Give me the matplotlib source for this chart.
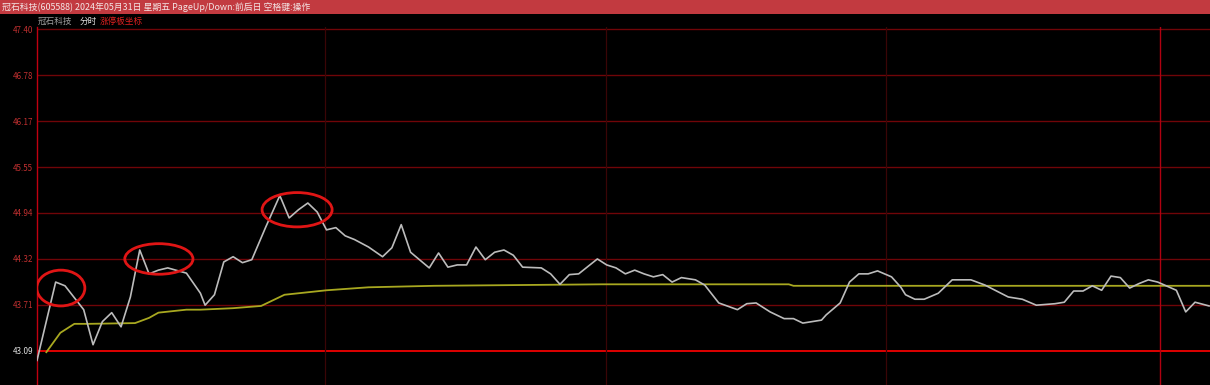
import matplotlib
matplotlib.use("Agg")
import matplotlib.pyplot as plt
import matplotlib.patches as patches

plt.rcParams['font.family'] = ['Noto Sans CJK SC', 'DejaVu Sans']

# 分时数据 (分钟, 价格)
price_t = [0, 4, 6, 8, 10, 12, 14, 16, 18, 20, 22, 24, 26, 28, 32, 35, 36, 38, 40, 42,
           44, 46, 49, 52, 54, 56, 58, 60, 62, 64, 66, 68, 71, 74, 76, 78, 80, 84, 86, 88,
           90, 92, 94, 96, 98, 100, 102, 104, 108, 110, 112, 114, 116, 120, 122, 124, 126, 128, 130, 132,
           134, 136, 138, 141, 143, 146, 150, 152, 154, 157, 160, 162, 164, 168, 169, 172, 174, 176, 178, 180,
           183, 185, 186, 188, 190, 193, 196, 200, 203, 208, 211, 214, 218, 220, 222, 224, 226, 228, 230, 232,
           234, 236, 238, 240, 244, 246, 248, 251]
price = [42.96, 44.01, 43.96, 43.80, 43.64, 43.17, 43.48, 43.60, 43.41, 43.81, 44.44, 44.12, 44.17, 44.20, 44.13, 43.86, 43.70, 43.84, 44.28, 44.35,
         44.27, 44.31, 44.75, 45.17, 44.87, 44.98, 45.07, 44.95, 44.71, 44.74, 44.63, 44.58, 44.48, 44.35, 44.47, 44.78, 44.41, 44.20, 44.40, 44.21,
         44.24, 44.24, 44.48, 44.31, 44.41, 44.44, 44.37, 44.21, 44.20, 44.12, 43.98, 44.11, 44.12, 44.32, 44.24, 44.20, 44.12, 44.17, 44.12, 44.08,
         44.11, 44.01, 44.07, 44.04, 43.97, 43.73, 43.64, 43.72, 43.73, 43.61, 43.52, 43.52, 43.46, 43.50, 43.57, 43.73, 44.01, 44.12, 44.12, 44.16,
         44.08, 43.94, 43.84, 43.78, 43.78, 43.86, 44.04, 44.04, 43.97, 43.81, 43.78, 43.70, 43.72, 43.74, 43.89, 43.89, 43.96, 43.90, 44.09, 44.07,
         43.93, 43.99, 44.04, 44.01, 43.90, 43.61, 43.74, 43.69]

# 均价线
avg_t = [2, 5, 8, 11, 21, 24, 26, 32, 35, 42, 48, 53, 56, 62, 71, 85, 103, 121, 161, 162, 251]
avg = [43.07, 43.33, 43.45, 43.45, 43.46, 43.53, 43.60, 43.64, 43.64, 43.66, 43.69, 43.84, 43.86, 43.90, 43.94, 43.96, 43.97, 43.98, 43.98, 43.96, 43.96]

prev_close = 43.09
limit_up = 47.40
y_ticks = [prev_close + k * (limit_up - prev_close) / 7 for k in range(8)]
hour_lines = [61.7, 121.8, 181.8]
day_end = 240.4

# 红圈标注 (中心分钟, 中心价格, 宽, 高)
circles = [(5.1, 43.93, 10.3, 0.48), (26.1, 44.32, 14.6, 0.41), (55.7, 44.98, 15.0, 0.46)]

title = "冠石科技(605588) 2024年05月31日 星期五 PageUp/Down:前后日 空格键:操作"

fig = plt.figure(figsize=(12.1, 3.85), dpi=100, facecolor='black')

# 顶部红色标题栏
bar = fig.add_axes([0, 1 - 14 / 385, 1, 14 / 385])
bar.set_facecolor('#c23a40')
bar.set_xticks([])
bar.set_yticks([])
for s in bar.spines.values():
    s.set_visible(False)
bar.text(0.002, 0.5, title, color='#f4e6e6', fontsize=6.4, va='center', ha='left',
         transform=bar.transAxes)

# 主图
ax = fig.add_axes([37 / 1210, 0, 1 - 37 / 1210, 358 / 385])
ax.set_facecolor('black')
ax.set_xlim(0, 251.2)
ax.set_ylim(42.63, 47.43)

for i, yv in enumerate(y_ticks):
    if i == 0:
        ax.axhline(yv, color='#e00000', lw=1.4, zorder=1)
    else:
        ax.axhline(yv, color='#700508', lw=1.0, zorder=1)
for xv in hour_lines:
    ax.axvline(xv, color='#3a0506', lw=0.9, zorder=1)
ax.axvline(day_end, color='#b00010', lw=1.0, zorder=1)

ax.plot(avg_t, avg, color='#a8a820', lw=1.3, zorder=3)
ax.plot(price_t, price, color='#bcbcbc', lw=1.2, zorder=4)

for cx, cy, w, h in circles:
    ax.add_patch(patches.Ellipse((cx, cy), w, h, fill=False, edgecolor='#e01515', lw=2.0, zorder=5))

ax.set_xticks([])
ax.set_yticks(y_ticks)
ax.set_yticklabels([f"{v:.2f}" for v in y_ticks], fontsize=5.8)
for i, lab in enumerate(ax.get_yticklabels()):
    lab.set_color('#e0e0e0' if i == 0 else '#c03030')
ax.tick_params(axis='y', length=0, pad=3)
for name, s in ax.spines.items():
    s.set_visible(name == 'left')
ax.spines['left'].set_color('#c00010')
ax.spines['left'].set_linewidth(1.0)

# 第二行说明文字
fig.text(38 / 1210, 1 - 21 / 385, "冠石科技", color='#a0a0a0', fontsize=6.2, va='center')
fig.text(80 / 1210, 1 - 21 / 385, "分时", color='#e0e0e0', fontsize=6.2, va='center')
fig.text(100 / 1210, 1 - 21 / 385, "涨停板坐标", color='#e02020', fontsize=6.2, va='center')

fig.savefig("out.png", dpi=100, facecolor='black')
